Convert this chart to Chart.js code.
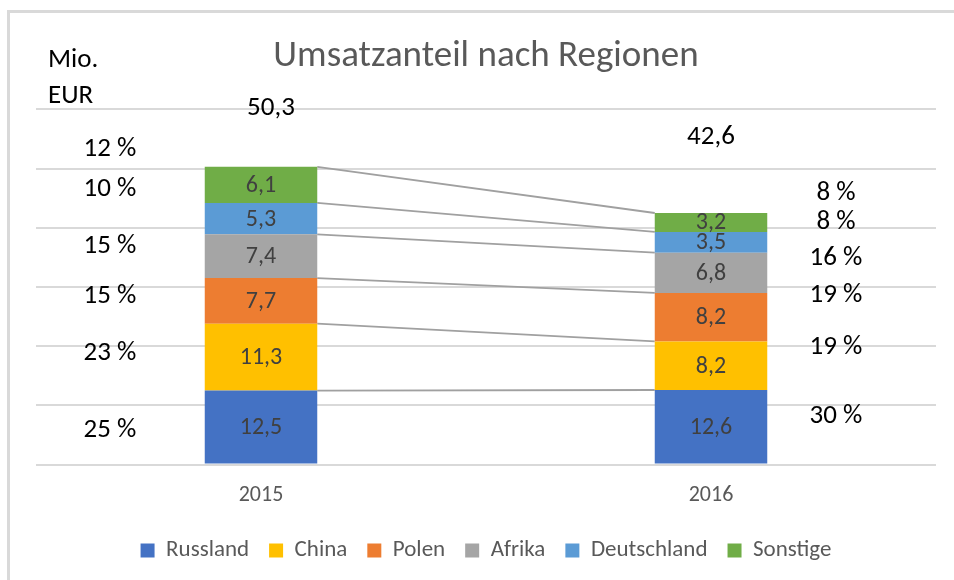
<!DOCTYPE html>
<html>
<head>
<meta charset="utf-8">
<script src="https://cdn.jsdelivr.net/npm/chart.js@4.4.1/dist/chart.umd.min.js"></script>
<style>
  html, body { margin:0; padding:0; background:#fff; }
  #wrap { position:relative; width:954px; height:580px; overflow:hidden; }
  #frame { position:absolute; left:7px; top:10px; width:960px; height:600px; border-left:3px solid #d9d9d9; border-top:3px solid #d9d9d9; }
  #c { position:absolute; left:0; top:0; }
</style>
</head>
<body>
<div id="wrap">
  <div id="frame"></div>
  <canvas id="c" width="954" height="580"></canvas>
</div>
<script>
// Daten
const jahre = ['2015', '2016'];
const regionen = ['Russland', 'China', 'Polen', 'Afrika', 'Deutschland', 'Sonstige'];
const farben = ['#4472C4', '#FFC000', '#ED7D31', '#A5A5A5', '#5B9BD5', '#70AD47'];
const russland = [12.5, 12.6];
const china = [11.3, 8.2];
const polen = [7.7, 8.2];
const afrika = [7.4, 6.8];
const deutschland = [5.3, 3.5];
const sonstige = [6.1, 3.2];
const summen = ['50,3', '42,6'];
const anteil2015 = ['25 %', '23 %', '15 %', '15 %', '10 %', '12 %'];
const anteil2016 = ['30 %', '19 %', '19 %', '16 %', '8 %', '8 %'];

const werte = [russland, china, polen, afrika, deutschland, sonstige];
const FONT = 'Carlito, Lato, sans-serif';

const fmt = v => v.toFixed(1).replace('.', ',');

// Verbindungslinien, Werte in den Balken, Prozente, Summen
const extras = {
    id: 'extras',
    beforeDatasetsDraw(chart) {
        const ctx = chart.ctx;
        ctx.save();
        ctx.strokeStyle = '#a0a0a0';
        ctx.lineWidth = 1.8;
        chart.data.datasets.forEach((ds, i) => {
            const m = chart.getDatasetMeta(i);
            const a = m.data[0], b = m.data[1];
            ctx.beginPath();
            ctx.moveTo(a.x + a.width / 2, a.y);
            ctx.lineTo(b.x - b.width / 2, b.y);
            ctx.stroke();
        });
        ctx.restore();
    },
    afterDatasetsDraw(chart) {
        const ctx = chart.ctx;
        const y = chart.scales.y;
        ctx.save();
        ctx.textAlign = 'center';
        ctx.textBaseline = 'middle';

        // Werte in den Segmenten
        ctx.font = '24px ' + FONT;
        ctx.fillStyle = '#404040';
        chart.data.datasets.forEach((ds, i) => {
            chart.getDatasetMeta(i).data.forEach((bar, j) => {
                const mid = (bar.y + bar.base) / 2;
                ctx.fillText(fmt(ds.data[j]), bar.x, mid + 1);
            });
        });

        // Prozentanteile
        ctx.font = '27px ' + FONT;
        ctx.fillStyle = '#000';
        const nudge15 = [3, -4, -5, -10, -29, -36];
        const nudge16 = [-11, -18, -22, -15, -20, -29];
        const cols = [[anteil2015, 110, nudge15], [anteil2016, 836, nudge16]];
        cols.forEach(([labels, x, nudge], j) => {
            let cum = 0;
            werte.forEach((arr, i) => {
                const mid = cum + arr[j] / 2;
                cum += arr[j];
                ctx.fillText(labels[i], x, y.getPixelForValue(mid) + nudge[i]);
            });
        });

        // Summen
        const top = chart.getDatasetMeta(werte.length - 1).data;
        ctx.fillText(summen[0], top[0].x + 10, top[0].y - 59);
        ctx.fillText(summen[1], top[1].x, top[1].y - 76);

        // Einheit
        ctx.textAlign = 'left';
        ctx.font = '27px ' + FONT;
        ctx.fillText('Mio.', 48, 60);
        ctx.fillText('EUR', 48, 96);
        ctx.restore();
    }
};

new Chart(document.getElementById('c'), {
    type: 'bar',
    data: {
        labels: jahre,
        datasets: regionen.map((r, i) => ({
            label: r,
            data: werte[i],
            backgroundColor: farben[i],
            borderWidth: 0,
            categoryPercentage: 0.5,
            barPercentage: 0.5
        }))
    },
    options: {
        responsive: false,
        animation: false,
        layout: { padding: { left: 36, right: 18, top: 18, bottom: 8 } },
        plugins: {
            title: {
                display: true,
                text: 'Umsatzanteil nach Regionen',
                color: '#595959',
                font: { family: FONT, size: 37, weight: 'normal' },
                padding: { top: 17, bottom: 30 }
            },
            legend: {
                position: 'bottom',
                labels: {
                    color: '#595959',
                    font: { family: FONT, size: 23 },
                    boxWidth: 14,
                    boxHeight: 14,
                    padding: 20
                }
            },
            tooltip: { enabled: false }
        },
        scales: {
            x: {
                stacked: true,
                grid: { display: false },
                border: { display: false },
                ticks: { color: '#595959', font: { family: FONT, size: 22 }, padding: 10 }
            },
            y: {
                stacked: true,
                min: 0,
                max: 60,
                ticks: { display: false, stepSize: 10 },
                grid: { color: '#d9d9d9', lineWidth: 2, drawTicks: false },
                border: { display: false }
            }
        }
    },
    plugins: [extras]
});
</script>
</body>
</html>
